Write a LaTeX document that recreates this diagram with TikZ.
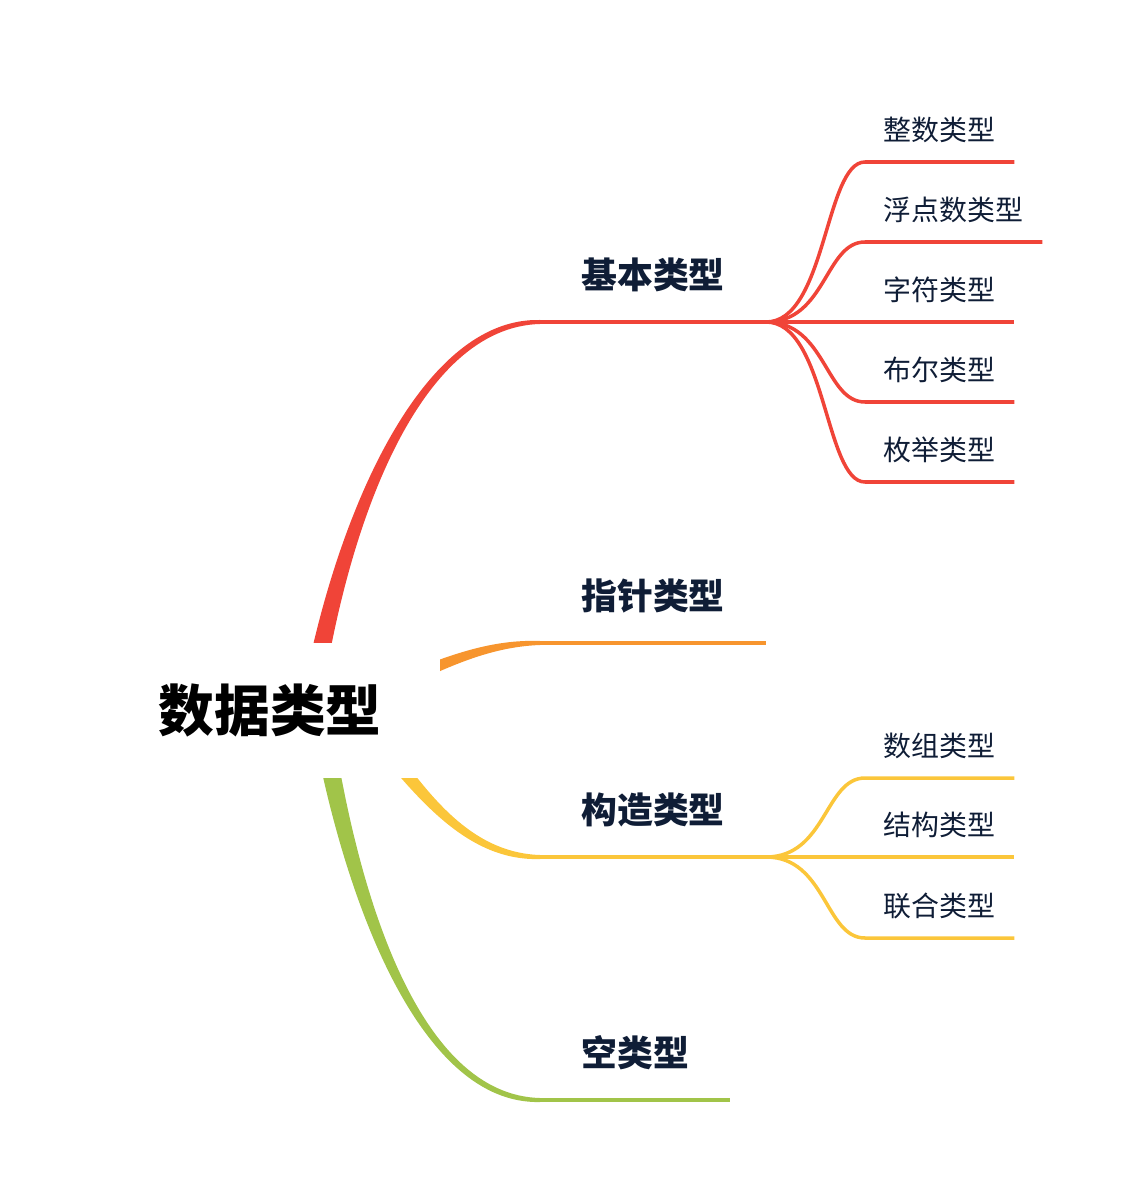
\documentclass[tikz,border=0pt]{standalone}
\usepackage{fontspec}
\newfontfamily\cjk{Noto Sans CJK SC}
\usetikzlibrary{positioning,calc,backgrounds}

\definecolor{cred}{HTML}{F04438}
\definecolor{corange}{HTML}{F7952E}
\definecolor{cyellow}{HTML}{FBC63A}
\definecolor{cgreen}{HTML}{A1C449}
\definecolor{ink}{HTML}{0F1D36}

\tikzset{
  root/.style={fill=white, minimum width=6.8cm, minimum height=2.7cm, inner sep=0pt,
    font=\cjk\bfseries\fontsize{31.7}{36}\selectfont},
  topic/.style={anchor=south west, inner xsep=0.82cm, inner ysep=0pt, minimum height=1.88cm,
    text=ink, font=\cjk\bfseries\fontsize{20.4}{24}\selectfont},
  leaf/.style={anchor=south west, inner xsep=0.37cm, inner ysep=0pt, minimum height=1.28cm,
    text=ink, font=\cjk\fontsize{15.9}{19}\selectfont},
  topicline/.style={line width=2.1pt},
  leafline/.style={line width=2pt}
}

% 粗细渐变的主分支: 颜色, 起点, 控制点1, 控制点2, 终点, 起点左侧半宽
\newcommand{\mainbranch}[6]{%
  \fill[#1] ($(#5)+(0,-2)$) .. controls ($(#4)+(0,-5)$) and ($(#3)+0.7*(#6)$) .. ($(#2)+(#6)$)
    -- ($(#2)-(#6)$) .. controls ($(#3)-0.7*(#6)$) and ($(#4)+(0,5)$) .. ($(#5)+(0,2)$) -- cycle;}

\begin{document}
\begin{tikzpicture}[x=0.02cm, y=-0.02cm]
\useasboundingbox (0,0) rectangle (1140,1202);

% 中心主题
\node[root] (root) at (270,710.5) {数据类型};

% 一级主题
\node[topic] (jiben) at (540,322) {基本类型};
\node[topic] (zhizhen) at (540,643) {指针类型};
\node[topic] (gouzao) at (540,857) {构造类型};
\node[topic] (kong) at (540,1100) {空类型};

% 二级主题
\node[leaf] (zhengshu) at (865,162) {整数类型};
\node[leaf] (fudian) at (865,242) {浮点数类型};
\node[leaf] (zifu) at (865,322) {字符类型};
\node[leaf] (buer) at (865,402) {布尔类型};
\node[leaf] (meiju) at (865,482) {枚举类型};
\node[leaf] (shuzu) at (865,778) {数组类型};
\node[leaf] (jiegou) at (865,857) {结构类型};
\node[leaf] (lianhe) at (865,938) {联合类型};

% 分支起点 (被中心主题遮住)
\coordinate (r1) at ($(root)+(40,0)$);
\coordinate (r2) at ($(root)+(30,10)$);
\coordinate (r3) at ($(root)+(70,-20)$);
\coordinate (r4) at ($(root)+(50,0)$);

\begin{scope}[on background layer]
\mainbranch{cred}{r1}{340,520}{420,322}{jiben.south west}{-10,-1.5}
\mainbranch{corange}{r2}{400,690}{460,643}{zhizhen.south west}{-2.9,-9.6}
\mainbranch{cyellow}{r3}{400,760}{450,857}{gouzao.south west}{7.6,-6.5}
\mainbranch{cgreen}{r4}{350,900}{420,1100}{kong.south west}{10,-1.5}
\end{scope}

% 一级连线
\draw[topicline, cred] (jiben.south west) -- (jiben.south east);
\draw[topicline, corange] (zhizhen.south west) -- (zhizhen.south east);
\draw[topicline, cyellow] (gouzao.south west) -- (gouzao.south east);
\draw[topicline, cgreen] (kong.south west) -- (kong.south east);

% 二级连线
\foreach \leafname in {zhengshu,fudian,zifu,buer,meiju}
  \draw[leafline, cred] (jiben.south east) .. controls +(60,0) and +(-40,0) .. (\leafname.south west) -- (\leafname.south east);
\foreach \leafname in {shuzu,jiegou,lianhe}
  \draw[leafline, cyellow] (gouzao.south east) .. controls +(60,0) and +(-40,0) .. (\leafname.south west) -- (\leafname.south east);
\end{tikzpicture}
\end{document}
